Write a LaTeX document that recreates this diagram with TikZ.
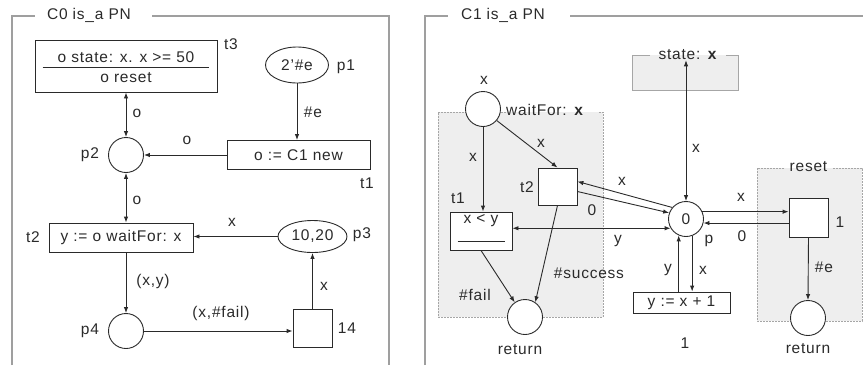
\documentclass[tikz,border=0pt]{standalone}
\usepackage{fontspec}
\setmainfont{Liberation Sans}[LetterSpace=5]
\usetikzlibrary{arrows.meta,shapes.geometric}
\definecolor{boxgray}{HTML}{EEEEEE}
\definecolor{ink}{HTML}{2A2A2A}
\tikzset{
  every node/.style={font=\fontsize{15.5}{17}\selectfont, text=ink},
  place/.style={circle, draw=ink, fill=white, minimum size=35pt, inner sep=0pt, line width=0.9pt},
  trans/.style={rectangle, draw=ink, fill=white, inner sep=0pt, line width=0.9pt},
  oval/.style={ellipse, draw=ink, fill=white, inner sep=0pt, line width=0.9pt},
  lbl/.style={inner sep=0pt},
  arc/.style={draw=ink, line width=0.9pt, -{Latex[length=6pt,width=4.5pt]}},
  dblarc/.style={draw=ink, line width=0.9pt, {Latex[length=6pt,width=4.5pt]}-{Latex[length=6pt,width=4.5pt]}},
  frameline/.style={draw=gray!75, line width=1.3pt},
  grayedge/.style={draw=gray!70, line width=0.9pt, dash pattern=on 2pt off 1pt},
}
\begin{document}
\begin{tikzpicture}[x=1pt,y=-1pt]
\useasboundingbox (0,0) rectangle (863,365);

% ================= left panel =================
\draw[frameline] (12,365) -- (12,16) -- (35,16);
\draw[frameline] (152,16) -- (389,16) -- (389,365);
\node[lbl] (titleA) at (89,15) {C0 is\_a PN};

\node[trans, minimum width=182pt, minimum height=52pt] (t3) at (126,66) {};
\node[lbl] (t3a) at (126,57) {o state: x. x >= 50};
\node[lbl] (t3b) at (126,78) {o reset};
\draw[ink, line width=0.8pt] ([xshift=8pt,yshift=-1pt]t3.west) -- ([xshift=-8pt,yshift=-1pt]t3.east);
\node[lbl] (t3l) at (231,44) {t3};

\node[oval, minimum width=63pt, minimum height=36pt] (p1) at (297,65) {2'\#e};
\node[lbl] (p1l) at (346,67) {p1};

\node[trans, minimum width=143pt, minimum height=29pt] (t1) at (298.5,155) {o := C1 new};
\node[lbl] (t1l) at (367,183) {t1};

\node[place] (p2) at (126,155) {};
\node[lbl] (p2l) at (90,155) {p2};

\node[trans, minimum width=144pt, minimum height=29pt] (t2) at (121,237.5) {y := o waitFor: x};
\node[lbl] (t2l) at (33,237) {t2};

\node[oval, minimum width=69pt, minimum height=32pt] (p3) at (312.5,236.5) {10,20};
\node[lbl] (p3l) at (362,235) {p3};

\node[place] (p4) at (126,331) {};
\node[lbl] (p4l) at (90,331) {p4};

\node[trans, minimum width=39pt, minimum height=38pt] (t4) at (312.5,328) {};
\node[lbl] (t4l) at (347,328) {14};

\draw[arc] (p1) -- (p1 |- t1.north);
\node[lbl] (e1) at (313,112) {\#e};
\draw[arc] (t1.west) -- (p2.east);
\node[lbl] (e2) at (187,140) {o};
\draw[dblarc] (t3.south -| p2) -- (p2.north);
\node[lbl] (e3) at (137,113) {o};
\draw[dblarc] (p2.south) -- (p2 |- t2.north);
\node[lbl] (e4) at (137,200) {o};
\draw[arc] (p3.west) -- (p3.west -| t2.east);
\node[lbl] (e5) at (232,222) {x};
\draw[arc] (t2.south -| p4) -- (p4.north);
\node[lbl] (e6) at (153,281) {(x,y)};
\draw[arc] (p4.east) -- (p4.east -| t4.west);
\node[lbl] (e7) at (221,313) {(x,\#fail)};
\draw[arc] (t4.north) -- (p3.south);
\node[lbl] (e8) at (324,286) {x};

% ================= right panel =================
\draw[frameline] (425,365) -- (425,16) -- (448,16);
\draw[frameline] (570,16) -- (863,16);
\node[lbl] (titleB) at (503,15) {C1 is\_a PN};

% gray region waitFor
\path[fill=boxgray] (438,112) -- (603,112) -- (603,317) -- (438,317) -- cycle;
\draw[grayedge] (438,112) -- (507,112);
\draw[grayedge] (599,112) -- (603,112) -- (603,317) -- (438,317) -- (438,112);

% gray region reset
\path[fill=boxgray] (757,168) -- (862,168) -- (862,321) -- (757,321) -- cycle;
\draw[grayedge] (784,168) -- (757,168) -- (757,321) -- (862,321) -- (862,168) -- (833,168);
\node[lbl] (rst) at (808.5,167) {reset};

% state box
\path[fill=boxgray] (632,55) -- (738,55) -- (738,90) -- (632,90) -- cycle;
\draw[draw=gray!70, line width=1pt] (650,55) -- (632,55) -- (632,90) -- (738,90) -- (738,55) -- (726,55);
\node[lbl] (stt) at (688,55) {state: \textbf{x}};

\node[place] (wf) at (483,109) {};
\node[lbl] (wfx) at (484,80) {x};
\node[lbl, anchor=west] (wft) at (506,109.5) {waitFor: \textbf{x}};

\node[trans, minimum width=62pt, minimum height=38pt] (t1R) at (481,231) {};
\node[lbl] (t1Rt) at (481,221) {x < y};
\draw[ink, line width=0.8pt] ([xshift=8pt,yshift=-10pt]t1R.west) -- ([xshift=-7pt,yshift=-10pt]t1R.east);
\node[lbl] (t1Rl) at (458,198) {t1};

\node[trans, minimum width=39pt, minimum height=37pt] (t2R) at (557.5,186.5) {};
\node[lbl] (t2Rl) at (527,187) {t2};

\node[place] (retA) at (525,317) {};
\node[lbl] (retAl) at (520,350) {return};

\node[place] (p) at (686,219) {0};
\node[lbl] (pl) at (709,241) {p};

\node[trans, minimum width=97pt, minimum height=21pt] (yb) at (681.5,302.5) {y := x + 1};
\node[lbl] (ybl) at (685,343) {1};

\node[trans, minimum width=39pt, minimum height=39pt] (tR) at (808.5,217.5) {};
\node[lbl] (tRl) at (840,222) {1};

\node[place] (retB) at (808,318) {};
\node[lbl] (retBl) at (808,349) {return};

% arcs right
\draw[arc] (wf.south) -- (wf.south |- t1R.north);
\node[lbl] (f1) at (473,157) {x};
\draw[arc] (wf.-40) -- (t2R.north);
\node[lbl] (f2) at (541,143) {x};
\draw[arc] (t2R.south) -- (retA.55);
\node[lbl] (f3) at (589,273) {\#success};
\draw[arc] (t1R.south) -- (retA.125);
\node[lbl] (f4) at (475,295) {\#fail};
\draw[dblarc] (p |- stt.south) -- (p.north);
\node[lbl] (f5) at (696,148) {x};
\draw[arc] (p.140) -- ([yshift=5pt]t2R.east);
\node[lbl] (f6) at (622,181) {x};
\draw[arc] ([yshift=-5pt]t2R.east) -- (p.160);
\node[lbl] (f7) at (592,210) {0};
\draw[dblarc] (p.211) -- (p.211 -| t1R.east);
\node[lbl] (f8) at (618,241) {y};
\draw[arc] (p.24) -- (p.24 -| tR.west);
\node[lbl] (f9) at (741,197) {x};
\draw[arc] (tR.west |- p.-13) -- (p.-13);
\node[lbl] (f10) at (742,236) {0};
\draw[arc] (tR.south) -- (retB.north);
\node[lbl] (f11) at (824,267) {\#e};
\draw[arc] (yb.north -| p.-114) -- (p.-114);
\node[lbl] (f12) at (668,270) {y};
\draw[arc] (p.-70) -- (p.-70 |- yb.north);
\node[lbl] (f13) at (703,270) {x};
\end{tikzpicture}
\end{document}
